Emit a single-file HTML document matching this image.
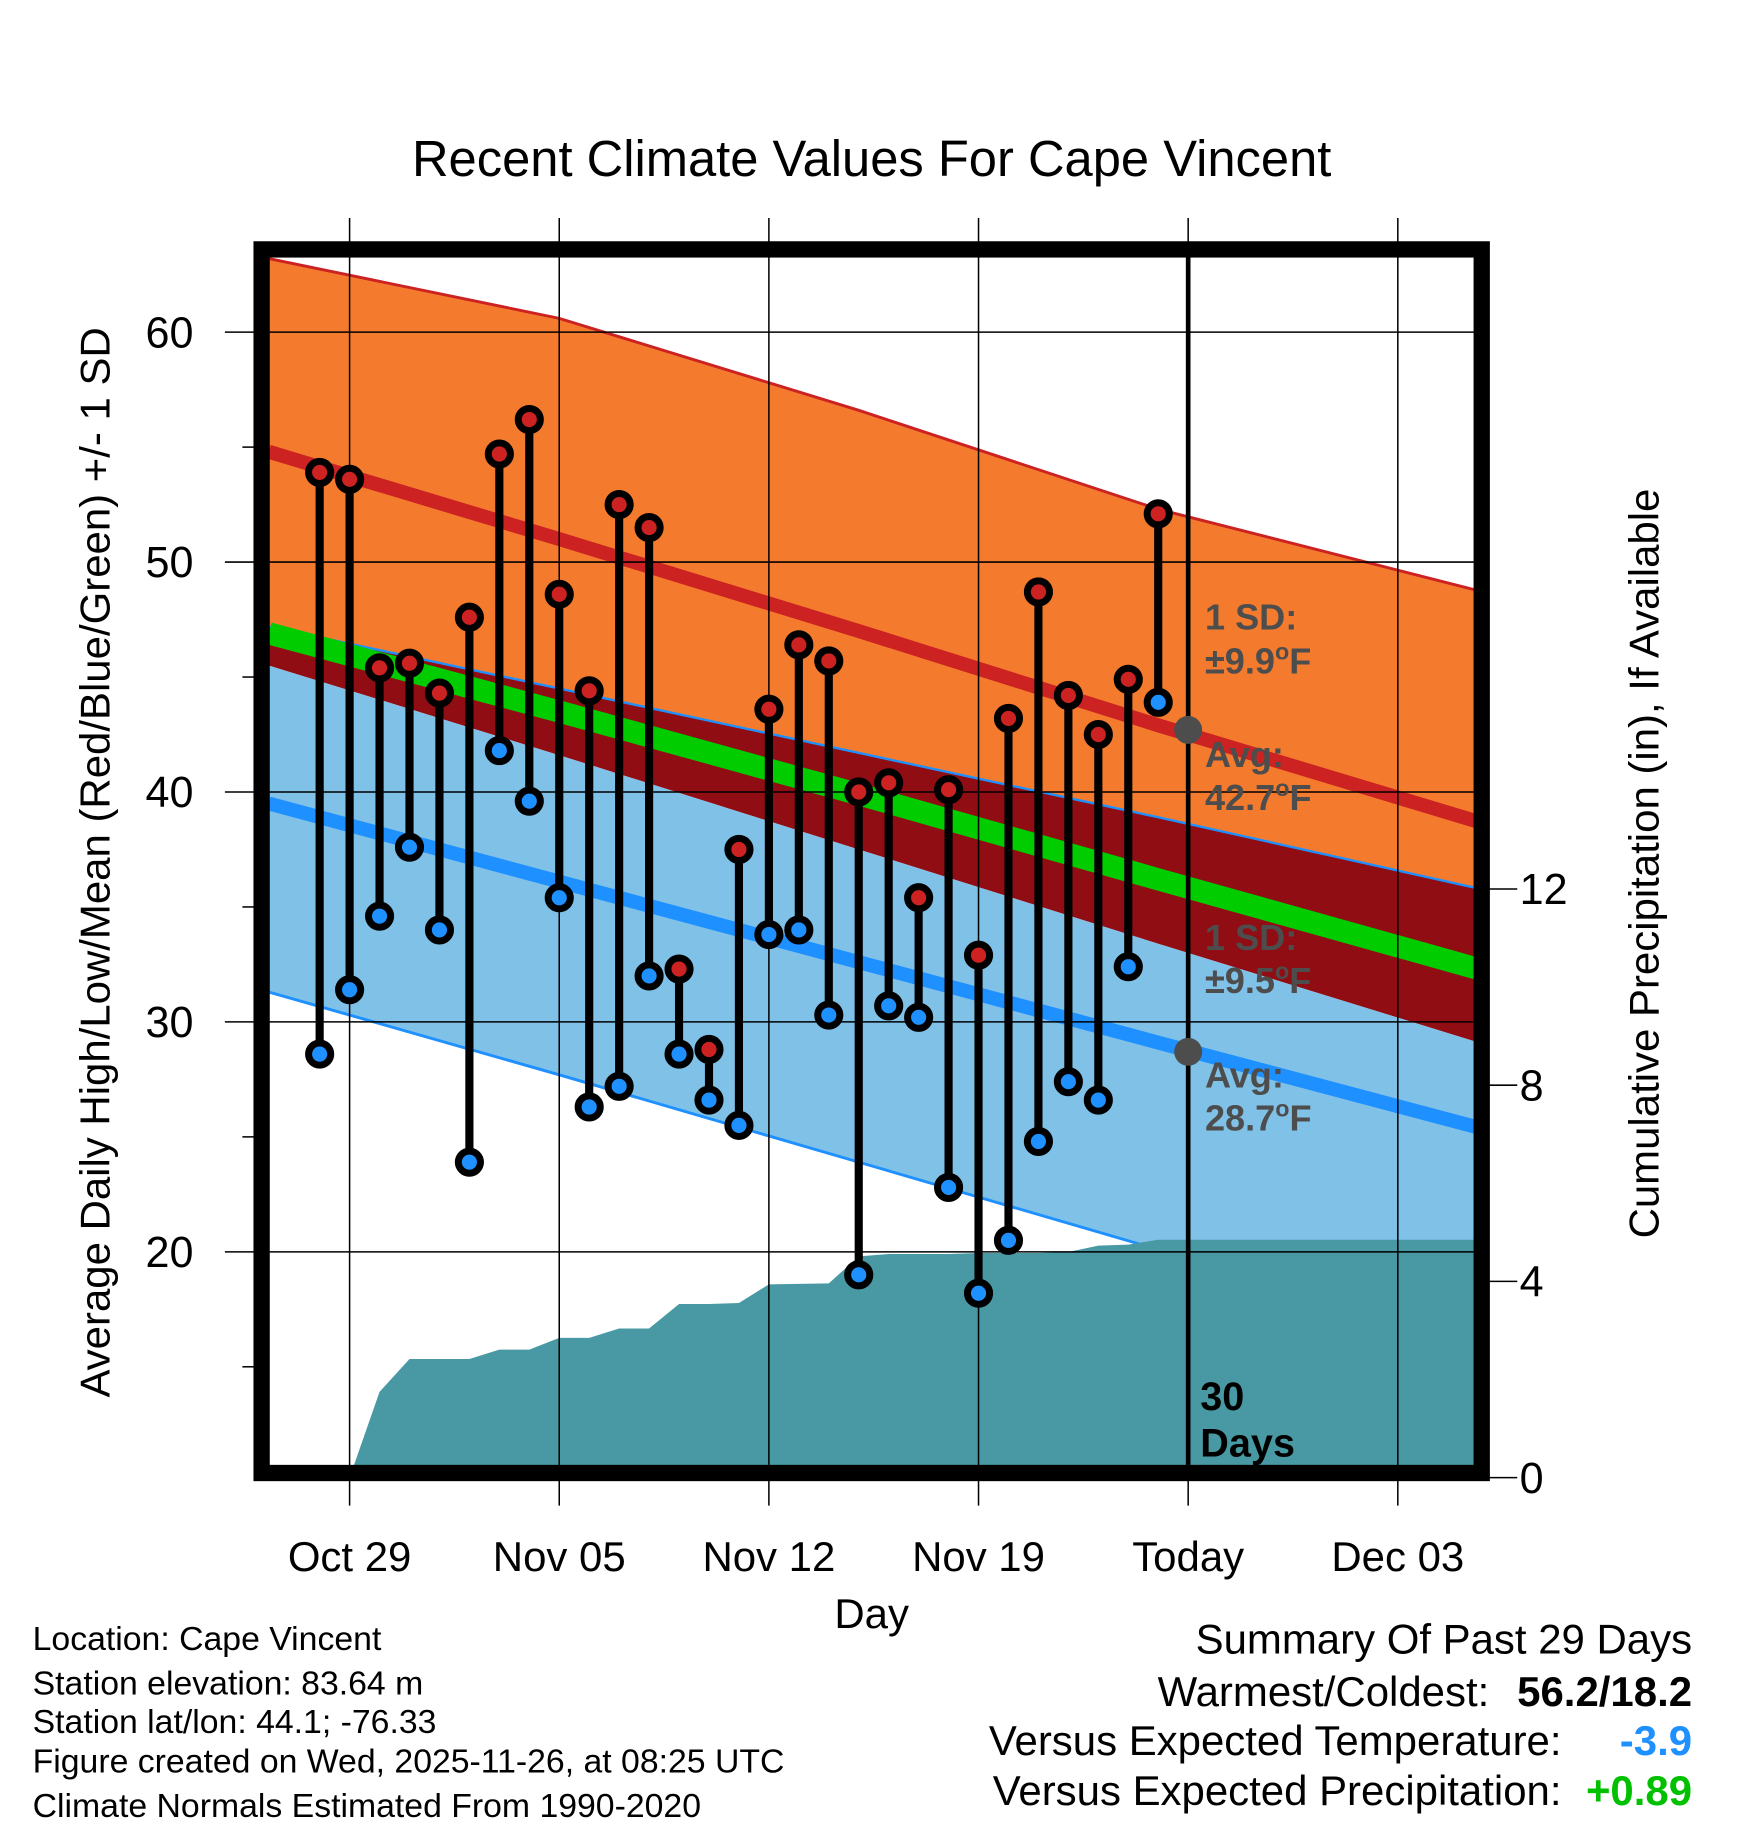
<!DOCTYPE html>
<html><head><meta charset="utf-8"><style>
html,body{margin:0;padding:0;background:#fff}
svg{display:block;font-family:"Liberation Sans",sans-serif}
</style></head><body>
<svg id="chart" width="1748" height="1828" viewBox="0 0 1500 1568.6" xmlns="http://www.w3.org/2000/svg">
<rect width="1500" height="1569" fill="#fff"/>
<g id="plot"></g>
<text x="748" y="151" font-size="43.5" text-anchor="middle">Recent Climate Values For Cape Vincent</text>
<text x="748" y="1397" font-size="36" text-anchor="middle">Day</text>
<text transform="translate(94,740) rotate(-90)" font-size="36" text-anchor="middle">Average Daily High/Low/Mean (Red/Blue/Green) +/- 1 SD</text>
<text transform="translate(1423,741) rotate(-90)" font-size="36" text-anchor="middle">Cumulative Precipitation (in), If Available</text>
<g font-size="29">
<text x="28" y="1416">Location: Cape Vincent</text>
<text x="28" y="1454">Station elevation: 83.64 m</text>
<text x="28" y="1487">Station lat/lon: 44.1; -76.33</text>
<text x="28" y="1521">Figure created on Wed, 2025-11-26, at 08:25 UTC</text>
<text x="28" y="1559">Climate Normals Estimated From 1990-2020</text>
</g>
<g font-size="36">
<text x="1452" y="1419" text-anchor="end">Summary Of Past 29 Days</text>
<text x="1278" y="1464" text-anchor="end">Warmest/Coldest:</text>
<text x="1452" y="1464" text-anchor="end" font-weight="bold">56.2/18.2</text>
<text x="1340" y="1506" text-anchor="end">Versus Expected Temperature:</text>
<text x="1452" y="1506" text-anchor="end" font-weight="bold" fill="#1e90ff">-3.9</text>
<text x="1340" y="1549" text-anchor="end">Versus Expected Precipitation:</text>
<text x="1452" y="1549" text-anchor="end" font-weight="bold" fill="#00c000">+0.89</text>
</g>
</svg>
<script>
// ---- data ----
const xTickDays = [0, 7, 14, 21, 28, 35];
const xTickLabels = ["Oct 29", "Nov 05", "Nov 12", "Nov 19", "Today", "Dec 03"];
const yTicks = [20, 30, 40, 50, 60];
const y2Ticks = [0, 4, 8, 12];
const obsDays = [-1,0,1,2,3,4,5,6,7,8,9,10,11,12,13,14,15,16,17,18,19,20,21,22,23,24,25,26,27];
const highs = [53.9,53.6,45.4,45.6,44.3,47.6,54.7,56.2,48.6,44.4,52.5,51.5,32.3,28.8,37.5,43.6,46.4,45.7,40.0,40.4,35.4,40.1,32.9,43.2,48.7,44.2,42.5,44.9,52.1];
const lows = [28.6,31.4,34.6,37.6,34.0,23.9,41.8,39.6,35.4,26.3,27.2,32.0,28.6,26.6,25.5,33.8,34.0,30.3,19.0,30.7,30.2,22.8,18.2,20.5,24.8,27.4,26.6,32.4,43.9];
const precipDays = [0,1,2,3,4,5,6,7,8,9,10,11,12,13,14,15,16,17,18,19,20,21,22,23,24,25,26,27,28];
const precipCum = [0,1.75,2.42,2.42,2.42,2.61,2.61,2.85,2.85,3.04,3.04,3.54,3.54,3.56,3.94,3.95,3.96,4.51,4.56,4.56,4.56,4.58,4.58,4.58,4.60,4.73,4.75,4.85,4.85];
// normals (degF) at these days (left edge ... right edge)
const normalDays = [-2.7, 7, 17, 27, 37.7];
const hiSDup = [63.2, 60.6, 56.6, 52.3, 48.75];
const hiMean = [54.8, 51.0, 47.0, 42.9, 38.7];
const hiSDdn = [47.2, 44.5, 41.7, 38.9, 35.8];
const meanT  = [46.9, 43.5, 39.9, 36.2, 32.3];
const loSDup = [45.5, 41.6, 37.5, 33.4, 29.1];
const loMean = [39.5, 36.1, 32.6, 29.1, 25.4];
const loSDdn = [31.3, 27.7, 23.9, 20.1, 16.0];

// ---- axes ----
const X = d => 300 + 25.7 * d;
const Y = t => 285 + (60 - t) * 19.73;
const Y2 = p => 1268 - 42.1 * p;
const L = 231, R = 1268, T = 218, B = 1260;
const NS = "http://www.w3.org/2000/svg";
const plot = document.getElementById('plot');
function mk(tag, attrs, parent) {
  const e = document.createElementNS(NS, tag);
  for (const k in attrs) e.setAttribute(k, attrs[k]);
  (parent || plot).appendChild(e);
  return e;
}
function pointsOf(arr) { return normalDays.map((d, i) => [X(d), Y(arr[i])]); }
const clip = mk('clipPath', {id: 'pc'});
mk('rect', {x: L, y: T, width: R - L, height: B - T}, clip);
const g = mk('g', {'clip-path': 'url(#pc)'});


function mkg(tag, attrs) { return mk(tag, attrs, g); }

function bandG(top, bot, fill, name) {
  const a = pointsOf(top), b = pointsOf(bot).reverse();
  const p = mkg('polygon', {fill: fill, points: a.concat(b).map(q => q.join(',')).join(' ')});
  
  
}
bandG(hiSDup, hiSDdn, '#f47b2e', 'high-sd-band');
bandG(hiSDdn, loSDup, '#900d14', 'overlap-band');
bandG(loSDup, loSDdn, '#80c1e8', 'low-sd-band');
function lineG(arr, color, w, name) {
  const l = mkg('polyline', {points: pointsOf(arr).map(q => q.join(',')).join(' '), fill: 'none', stroke: color, 'stroke-width': w});
  
  
}
lineG(hiSDup, '#cc2222', 2.5, 'high-plus-sd-line');
lineG(hiSDdn, '#1e90ff', 2, 'high-minus-sd-line');
lineG(loSDdn, '#1e90ff', 2.5, 'low-minus-sd-line');
lineG(meanT, '#00cc00', 19, 'mean-line');
lineG(hiMean, '#cc2222', 12, 'high-mean-line');
lineG(loMean, '#1e90ff', 12, 'low-mean-line');

// precipitation area
let pts = [[X(precipDays[0]), B + 10]];
precipDays.forEach((d, i) => pts.push([X(d), Y2(precipCum[i])]));
pts.push([R + 5, Y2(precipCum[precipCum.length - 1])]);
pts.push([R + 5, B + 10]);
const pa = mkg('polygon', {fill: '#4899a3', points: pts.map(q => q.join(',')).join(' ')});



// grid
yTicks.forEach(t => {
  const l = mk('line', {x1: 193, x2: R, y1: Y(t), y2: Y(t), stroke: '#000', 'stroke-width': 1.3});
  
  
  const tx = mk('text', {x: 166, y: Y(t) + 13, 'font-size': 37, 'text-anchor': 'end'});
  tx.textContent = t;
  
  
});
[15, 25, 35, 45, 55].forEach(t => {
  const l = mk('line', {x1: 208, x2: 218, y1: Y(t), y2: Y(t), stroke: '#000', 'stroke-width': 1.3});
  
  
});
xTickDays.forEach((d, i) => {
  const l = mk('line', {x1: X(d), x2: X(d), y1: 187, y2: 1292, stroke: '#000', 'stroke-width': 1.3});
  
  
  const tx = mk('text', {x: X(d), y: 1348, 'font-size': 36, 'text-anchor': 'middle'});
  tx.textContent = xTickLabels[i];
  
  
});
y2Ticks.forEach(p => {
  const l = mk('line', {x1: 1276, x2: 1302, y1: Y2(p), y2: Y2(p), stroke: '#000', 'stroke-width': 1.3});
  
  
  const tx = mk('text', {x: 1304, y: Y2(p) + 13, 'font-size': 37});
  tx.textContent = p;
  
  
});

// today line
const td = mk('line', {x1: X(28), x2: X(28), y1: T, y2: B, stroke: '#000', 'stroke-width': 4});



// annotations
const ann = [["1 SD:", 540, ""], ["\u00b19.9", 578, "F"], ["Avg:", 658, ""], ["42.7", 695, "F"], ["1 SD:", 815, ""], ["\u00b19.5", 852, "F"], ["Avg:", 933, ""], ["28.7", 970, "F"]];
ann.forEach(a => {
  const tx = mk('text', {x: 1034, y: a[1], 'font-size': 31, 'font-weight': 'bold', fill: '#4d4d4d'});
  tx.appendChild(document.createTextNode(a[0]));
  if (a[2]) {
    const s = mk('tspan', {'font-size': 20, dy: -12}, tx);
    s.textContent = 'o';
    const f = mk('tspan', {dy: 12}, tx);
    f.textContent = a[2];
  }
  
  
});
[42.7, 28.7].forEach(v => {
  const c = mk('circle', {cx: X(28), cy: Y(v), r: 12, fill: '#4d4d4d'});
  
  
});
[["30", 1210], ["Days", 1250]].forEach(a => {
  const tx = mk('text', {x: 1030, y: a[1], 'font-size': 34, 'font-weight': 'bold'});
  tx.textContent = a[0];
  
  
});

// observations
obsDays.forEach((d, i) => {
  const x = X(d);
  const s = mk('line', {x1: x, x2: x, y1: Y(highs[i]), y2: Y(lows[i]), stroke: '#000', 'stroke-width': 7});
  
  
  const h = mk('circle', {cx: x, cy: Y(highs[i]), r: 9.5, fill: '#cc2222', stroke: '#000', 'stroke-width': 6});
  
  
  const lo = mk('circle', {cx: x, cy: Y(lows[i]), r: 9.5, fill: '#1e90ff', stroke: '#000', 'stroke-width': 6});
  
  
});

// frame
const fr = mk('rect', {x: 224.5, y: 214, width: 1047, height: 1050, fill: 'none', stroke: '#000', 'stroke-width': 14});


</script>
</body></html>
